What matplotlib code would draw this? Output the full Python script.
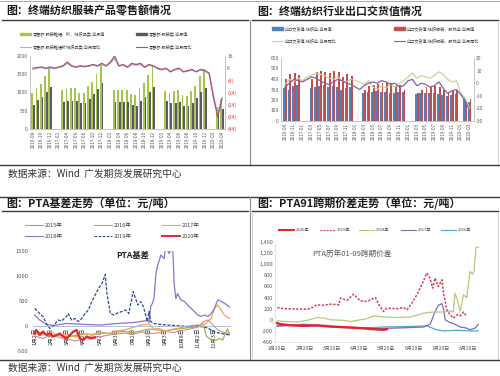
import numpy as np
import matplotlib
matplotlib.use('Agg')
import matplotlib.pyplot as plt
from matplotlib.lines import Line2D
from matplotlib.patches import Patch

plt.rcParams['font.family'] = ['Noto Sans CJK SC', 'DejaVu Sans']
plt.rcParams['axes.unicode_minus'] = False

nan = np.nan

# ---------------- Panel 1: retail sales ----------------
retail_months = ['2016-08', '2016-09', '2016-10', '2016-11', '2016-12',
                 '2017-01', '2017-02', '2017-03', '2017-04', '2017-05', '2017-06', '2017-07', '2017-08',
                 '2017-09', '2017-10', '2017-11', '2017-12',
                 '2018-01', '2018-02', '2018-03', '2018-04', '2018-05', '2018-06', '2018-07', '2018-08',
                 '2018-09', '2018-10', '2018-11', '2018-12',
                 '2019-01', '2019-02', '2019-03', '2019-04', '2019-05', '2019-06', '2019-07', '2019-08',
                 '2019-09', '2019-10', '2019-11', '2019-12',
                 '2020-01', '2020-02', '2020-03', '2020-04']
textile_retail = [980, 1130, 1220, 1460, 1690, nan, nan,
                  1080, 1100, 1120, 1110, 1000, 990, 1170, 1300, 1500, 1790, nan, nan,
                  1060, 1060, 1080, 1060, 960, 930, 1120, 1250, 1480, 1750, nan, nan,
                  1050, 1000, 1040, 1060, 920, 900, 1050, 1180, 1450, 1650, nan, nan,
                  600, 790]
clothing_retail = [660, 800, 890, 1020, 1160, nan, nan,
                   740, 760, 780, 770, 700, 700, 830, 960, 1100, 1250, nan, nan,
                   730, 730, 730, 730, 660, 640, 760, 880, 1020, 1150, nan, nan,
                   760, 700, 720, 740, 640, 640, 720, 840, 1020, 1130, nan, nan,
                   460, 540]
textile_retail_yoy = [5, 6, 6.5, 5.5, 6, 5.5, 6.5, 7.5, 10, 7.5, 6.5, 7.5, 7, 7.5, 8.5, 7.5, 9, 7.5, 10, 14,
                      7.5, 8.5, 6.5, 9, 8.5, 9, 6.5, 8.5, 7.5, 5.5, 4.5, 5.5, 3, 4.5, 5.5, 3, 3.5, 4.5, 3, 4.5,
                      3.5, 1.5, -16, -32, -18]
clothing_retail_yoy = [6, 6.5, 7, 6, 7, 6, 7, 8, 11, 8, 7, 8, 7.5, 8, 9, 8, 10, 8, 11, 16,
                       8, 9, 7, 10, 9, 10, 7, 9, 8, 6, 5, 6, 3, 5, 6, 3, 4, 5, 3, 5,
                       4, 2, -18, -34, -19]

# ---------------- Panel 2: export delivery value ----------------
export_months = ['2016-09', '2016-10', '2016-11', '2016-12',
                 '2017-01', '2017-02', '2017-03', '2017-04', '2017-05', '2017-06', '2017-07', '2017-08',
                 '2017-09', '2017-10', '2017-11', '2017-12',
                 '2018-01', '2018-02', '2018-03', '2018-04', '2018-05', '2018-06', '2018-07', '2018-08',
                 '2018-09', '2018-10', '2018-11', '2018-12',
                 '2019-01', '2019-02', '2019-03', '2019-04', '2019-05', '2019-06', '2019-07', '2019-08',
                 '2019-09', '2019-10', '2019-11', '2019-12',
                 '2020-01', '2020-02', '2020-03']
textile_export = [310, 300, 330, 340, nan, nan,
                  310, 320, 330, 340, 320, 330, 320, 300, 310, 320, nan, nan,
                  270, 280, 280, 290, 280, 280, 270, 265, 280, 280, nan, nan,
                  260, 270, 270, 270, 265, 255, 245, 240, 250, 260, nan, 220, 180]
apparel_export = [400, 450, 460, 440, nan, nan,
                  400, 470, 480, 470, 460, 480, 470, 420, 450, 430, nan, nan,
                  300, 330, 340, 350, 360, 370, 360, 330, 340, 300, nan, nan,
                  270, 300, 320, 320, 330, 320, 300, 280, 290, 300, nan, 180, 210]
textile_export_yoy = [-1, 3, 1, 4, 2, 5, 6, 8, 7, 6, 4, 3, 5, 2, 1, 3, 2, 1, -1, 2,
                      -3, -5, -2, -4, -1, -3, 0, 2, 5, 8, 4, 6, 5, 4, 6, 9, 7, 3, 1, 2,
                      -8, -12, -20]
apparel_export_yoy = [-3, 0, 3, 2, 1, 3, 5, 4, 2, 0, -1, 1, 3, 2, 0, -1, -3, -5, -2, 0,
                      1, 0, 2, 1, -1, 0, -3, -2, 2, 3, -2, 0, -1, -3, -2, 1, -4, -8, -6, -5,
                      -9, -14, -22]

# ---------------- Panel 3: PTA basis (x = month position, 0 = 1月2日) ----------------
basis_ticklabels = ['1月2日', '2月3日', '3月2日', '4月2日', '5月2日', '6月3日',
                    '7月2日', '8月2日', '9月3日', '10月8日', '11月2日', '12月3日']
basis_2015_x = [0, 0.5, 1, 1.5, 2, 2.5, 3, 3.5, 4, 4.5, 5, 5.5, 6, 6.5, 7, 7.5, 8, 8.5, 9, 9.5,
                10, 10.3, 10.6, 10.9, 11.2, 11.5, 11.93]
basis_2015_y = [-200, -250, -180, -230, -260, -300, -250, -200, -220, -180, -160, -140, -170, -120,
                -150, -140, -110, -130, -90, -60, -20, 80, 120, 30, -80, -120, -150]
basis_2016_x = [0, 0.5, 1, 1.5, 2, 2.5, 3, 3.5, 4, 4.5, 5, 5.5, 6, 6.5, 7, 7.5, 8, 8.5, 9, 9.5,
                10, 10.3, 10.5, 10.8, 11.0, 11.3, 11.5, 11.7, 11.8, 11.93]
basis_2016_y = [-100, -150, -200, -180, -220, -190, -160, -170, -140, -150, -120, -110, -130, -100,
                -60, -80, -100, -70, -50, -30, -20, 50, -200, -280, -300, -250, -280, -120, -60, -180]
basis_2017_x = [0, 0.5, 1, 1.5, 2, 2.5, 3, 3.5, 4, 4.5, 5, 5.5, 6, 6.5, 7, 7.3, 7.6, 8, 8.5, 9,
                9.5, 10, 10.4, 10.8, 11.0, 11.2, 11.4, 11.6, 11.93]
basis_2017_y = [-150, -180, -120, -200, -170, -220, -150, -180, -120, -150, -100, -80, -30, 20, 40,
                -60, -50, -100, -60, -30, 0, 20, 30, 150, 350, 420, 320, 220, 150]
basis_2018_x = [0, 0.31, 0.72, 1.13, 1.95, 3.19, 4.01, 5.04, 6.07, 6.69, 6.89, 7.0, 7.1, 7.2, 7.3,
                7.41, 7.51, 7.72, 7.92, 8.02, 8.23, 8.44, 8.54, 8.64, 8.74, 8.95, 9.16, 9.36, 9.67,
                9.98, 10.19, 10.39, 10.6, 10.8, 11.0, 11.11, 11.21, 11.42, 11.63, 11.93]
basis_2018_y = [220, 120, 30, 10, 50, 30, 20, 50, 70, 100, 110, 70, 390, 450, 550, 1020, 1190, 1420,
                1350, 1600, 1450, 1600, 820, 550, 650, 520, 490, 420, 320, 220, 190, 220, 190, 250,
                350, 450, 520, 490, 450, 380]
basis_2019_x = [0, 0.1, 0.31, 0.51, 0.72, 0.93, 1.13, 1.44, 1.65, 1.95, 2.06, 2.26, 2.47, 2.67, 2.88,
                3.09, 3.29, 3.5, 3.7, 3.91, 4.12, 4.32, 4.42, 4.63, 4.84, 5.14, 5.35, 5.56, 5.76,
                5.86, 6.03, 6.17, 6.32, 6.48, 6.65, 6.79, 6.89, 7.0, 7.1, 7.3, 7.72, 8.13, 8.74,
                9.36, 9.98, 10.6, 11.0, 11.42, 11.93]
basis_2019_y = [350, 320, 250, 190, 50, -50, 0, 120, 100, 190, 250, 120, 150, 90, 150, 250, 320, 490,
                620, 750, 850, 1030, 650, 250, 220, 270, 290, 320, 250, 420, 690, 550, 420, 490, 390,
                220, 90, 290, 90, 50, 30, 20, 5, -10, 0, -40, -120, -150, -180]
basis_2020_x = [0, 0.1, 0.31, 0.51, 0.72, 0.93, 1.13, 1.34, 1.54, 1.75, 1.95, 2.16, 2.37, 2.57, 2.67,
                2.78, 2.98, 3.19, 3.4, 3.7]
basis_2020_y = [-150, -80, -180, -110, -180, -150, -210, -180, -150, -210, -250, -180, -110, -80,
                -180, -250, -280, -210, -250, -230]

# ---------------- Panel 4: PTA 1-9 spread (x = months after 1月20日) ----------------
spread_ticklabels = ['1月20日', '2月20日', '3月20日', '4月20日', '5月20日', '6月20日', '7月20日', '8月20日']
spread_2020_x = [0, 0.12, 0.49, 0.98, 1.46, 1.95, 2.68, 3.05, 3.54, 3.9, 4.02]
spread_2020_y = [-60, -80, -100, -110, -100, -120, -140, -150, -170, -180, -170]
spread_2019_x = [0, 0.24, 0.61, 0.98, 1.22, 1.46, 1.65, 1.95, 2.26, 2.32, 2.56, 2.8, 3.05, 3.29, 3.6,
                 3.72, 3.9, 4.02, 4.39, 4.63, 4.76, 4.94, 5.12, 5.3, 5.49, 5.6, 5.7, 5.79, 5.91, 6.04,
                 6.1, 6.22, 6.34, 6.46, 6.59, 6.71, 6.83, 6.95]
spread_2019_y = [220, 200, 195, 190, 200, 270, 260, 280, 270, 390, 350, 460, 340, 330, 400, 280, 150,
                 210, 200, 220, 180, 300, 450, 630, 840, 750, 570, 750, 600, 720, 480, 180, 90, 30,
                 90, 70, 140, 60]
spread_2018_x = [0, 0.24, 0.73, 1.1, 1.46, 1.71, 1.95, 2.44, 2.68, 3.05, 3.29, 3.54, 3.9, 4.39, 4.88,
                 5.12, 5.37, 5.73, 6.1, 6.34, 6.46, 6.52, 6.61, 6.71, 6.83, 6.95, 7.07, 7.17, 7.22,
                 7.29, 7.38]
spread_2018_y = [-20, -30, -40, -10, 40, 30, 0, -10, -30, 0, 20, 70, 50, 40, 50, 80, 120, 140, 140,
                 160, 140, 480, 350, 150, 450, 400, 870, 820, 880, 1300, 1310]
spread_2017_x = [0, 0.98, 1.95, 2.93, 3.66, 4.88, 5.37, 5.61, 5.79, 5.91, 6.04, 6.1, 6.16, 6.34, 6.52,
                 6.71, 6.95, 7.07, 7.26, 7.38]
spread_2017_y = [-120, -80, -120, -140, -160, -140, -130, -80, 150, 260, 290, 200, 0, -50, -80, -130,
                 -150, -180, -150, -80]
spread_2016_x = [0, 0.98, 1.95, 2.93, 3.9, 4.88, 5.49, 5.85, 6.1, 6.59, 7.07, 7.38]
spread_2016_y = [-100, -100, -130, -150, -130, -120, -110, -180, -200, -190, -200, -200]

# ====================================================================
W, H = 500, 376
fig = plt.figure(figsize=(5.0, 3.76), dpi=100)


def axpx(x0, y0, x1, y1):
    return fig.add_axes([x0 / W, 1 - y1 / H, (x1 - x0) / W, (y1 - y0) / H])


def hline(x0, x1, y, color='#3a3a3a', lw=1.0):
    fig.add_artist(Line2D([x0 / W, x1 / W], [1 - y / H, 1 - y / H], transform=fig.transFigure,
                          color=color, lw=lw))


def vline(x, y0, y1, color='#8c8c8c', lw=0.8):
    fig.add_artist(Line2D([x / W, x / W], [1 - y0 / H, 1 - y1 / H], transform=fig.transFigure,
                          color=color, lw=lw))


def ftext(x, y, s, **kw):
    fig.text(x / W, 1 - y / H, s, **kw)


def leg(handle, label, x, y, fs=3.0, hl=2.2):
    fig.legend([handle], [label], loc='center left', bbox_to_anchor=(x / W, 1 - y / H),
               frameon=False, fontsize=fs, handlelength=hl, handletextpad=0.4, borderpad=0,
               borderaxespad=0, labelcolor='#404040')


# frame lines
hline(0, 500, 1, color='#9a9a9a', lw=0.6)
hline(2, 248, 20)
hline(252, 498, 20)
vline(250, 20, 165)
hline(0, 500, 165)
hline(0, 500, 197)
hline(2, 248, 211)
hline(252, 498, 211)
vline(250, 197, 360)
hline(0, 500, 360)
vline(498, 22, 163, color='#c8c8c8', lw=0.6)
vline(252, 213, 359, color='#c8c8c8', lw=0.6)
vline(498, 213, 359, color='#c8c8c8', lw=0.6)

title_kw = dict(fontsize=7.9, fontweight='bold', color='#1a1a1a', va='center', ha='left')
ftext(6, 11, '图：终端纺织服装产品零售额情况', **title_kw)
ftext(257, 11, '图：终端纺织行业出口交货值情况', **title_kw)
ftext(6, 204, '图：PTA基差走势（单位：元/吨）', **title_kw)
ftext(257, 204, '图：PTA91跨期价差走势（单位：元/吨）', **title_kw)
src_kw = dict(fontsize=7.0, color='#333333', va='center', ha='left')
ftext(8, 174, '数据来源：Wind  广发期货发展研究中心', **src_kw)
ftext(8, 368, '数据来源：Wind  广发期货发展研究中心', **src_kw)


def style_axis(ax, color='#bfbfbf'):
    for s in ax.spines.values():
        s.set_color(color)
        s.set_linewidth(0.5)
    ax.tick_params(length=0, pad=1.5, colors='#595959')


# ---------------- Panel 1 ----------------
c_green, c_purple, c_blue, c_pink = '#a4c64c', '#5e5670', '#9bb7dc', '#b0506e'
ax1 = axpx(30, 56, 225, 129)
n1 = len(retail_months)
x1 = np.arange(n1)
ax1.bar(x1 - 0.2, textile_retail, width=0.42, color=c_green, zorder=2)
ax1.bar(x1 + 0.2, clothing_retail, width=0.42, color=c_purple, zorder=2)
ax1.set_xlim(-0.7, n1 - 0.3)
ax1.set_ylim(0, 2000)
ax1.set_yticks([0, 500, 1000, 1500, 2000])
ax1.set_xticks(x1[::2])
ax1.set_xticklabels(retail_months[::2], rotation=90, fontsize=3.3)
ax1.tick_params(axis='y', labelsize=3.5)
style_axis(ax1)
ax1.spines['top'].set_visible(False)
ax1b = ax1.twinx()
ax1b.plot(x1, textile_retail_yoy, color=c_blue, lw=0.9, zorder=3)
ax1b.plot(x1, clothing_retail_yoy, color=c_pink, lw=0.9, zorder=3)
ax1b.set_ylim(-44, 16)
r_ticks = [16, 6, -4, -14, -24, -34, -44]
ax1b.set_yticks(r_ticks)
ax1b.set_yticklabels([str(t) if t >= 0 else '(%d)' % -t for t in r_ticks], fontsize=3.5)
style_axis(ax1b)
ax1b.spines['top'].set_visible(False)
for lab, t in zip(ax1b.get_yticklabels(), r_ticks):
    lab.set_color('#595959' if t >= 0 else '#e03030')

leg(Patch(color=c_green), '零售额:服装鞋帽、针、纺织品类:当月值', 20, 34, hl=2.6)
leg(Patch(color=c_purple), '零售额:服装类:当月值', 136, 34, hl=2.6)
leg(Line2D([], [], color=c_blue, lw=0.8), '零售额:服装鞋帽针纺织品类:当月同比', 20, 47, hl=2.6)
leg(Line2D([], [], color=c_pink, lw=0.8), '零售额:服装类:当月同比', 136, 47, hl=2.6)

# ---------------- Panel 2 ----------------
c_eblue, c_ered, c_egreen, c_epurple = '#4f81bd', '#c0504d', '#c3d69b', '#8064a2'
ax2 = axpx(281, 58, 474, 121)
n2 = len(export_months)
x2 = np.arange(n2)
ax2.bar(x2 - 0.2, textile_export, width=0.42, color=c_eblue, zorder=2)
ax2.bar(x2 + 0.2, apparel_export, width=0.42, color=c_ered, zorder=2)
ax2.set_xlim(-0.9, n2)
ax2.set_ylim(0, 600)
ax2.set_yticks(np.arange(0, 601, 100))
ax2.set_xticks(x2[::2])
ax2.set_xticklabels(export_months[::2], rotation=90, fontsize=3.3)
ax2.tick_params(axis='y', labelsize=3.5)
style_axis(ax2)
ax2.spines['top'].set_visible(False)
ax2b = ax2.twinx()
ax2b.plot(x2, textile_export_yoy, color=c_egreen, lw=0.9, zorder=3)
ax2b.plot(x2, apparel_export_yoy, color=c_epurple, lw=0.9, zorder=3)
ax2b.set_ylim(-30, 20)
ax2b.set_yticks(np.arange(-30, 21, 10))
ax2b.tick_params(axis='y', labelsize=3.5)
style_axis(ax2b)
ax2b.spines['top'].set_visible(False)

leg(Patch(color=c_eblue), '出口交货值:纺织业:当月值', 272, 29, hl=2.6)
leg(Patch(color=c_ered), '出口交货值:纺织服装、服饰业:当月值', 394, 29, hl=2.6)
leg(Line2D([], [], color=c_egreen, lw=0.8), '出口交货值:纺织业:当月同比', 272, 41, hl=2.6)
leg(Line2D([], [], color=c_epurple, lw=0.8), '出口交货值:纺织服装、服饰业:当月同比', 394, 41, hl=2.6)

# ---------------- Panel 3 ----------------
c15, c16, c17, c18, c19, c20 = '#d08a92', '#9cb84a', '#f3a25a', '#8a76c4', '#2d4a8a', '#e3262b'
ax3 = axpx(33, 251, 230, 351)
ax3.spines['bottom'].set_position(('data', 0))
for s in ['top', 'right', 'left']:
    ax3.spines[s].set_visible(False)
ax3.plot(basis_2015_x, basis_2015_y, color=c15, lw=0.8)
ax3.plot(basis_2016_x, basis_2016_y, color=c16, lw=0.9)
ax3.plot(basis_2017_x, basis_2017_y, color=c17, lw=0.9)
ax3.plot(basis_2018_x, basis_2018_y, color=c18, lw=0.9)
ax3.plot(basis_2019_x, basis_2019_y, color=c19, lw=0.9, ls=(0, (2.5, 1.2)))
ax3.plot(basis_2020_x, basis_2020_y, color=c20, lw=1.6)
ax3.set_xlim(-0.1, 11.95)
ax3.set_ylim(-500, 1500)
ax3.set_yticks([-500, 0, 500, 1000, 1500])
ax3.set_xticks(np.arange(len(basis_ticklabels)))
ax3.set_xticklabels(basis_ticklabels, rotation=90, fontsize=4, color='#333333')
ax3.tick_params(axis='y', labelsize=4.2, length=0, colors='#595959')
ax3.tick_params(axis='x', length=0, pad=1.5)
ax3.spines['bottom'].set_color('#9fb4d4')
ax3.spines['bottom'].set_linewidth(0.6)
ax3.text(6.0, 1400, 'PTA基差', ha='center', va='center', fontsize=6, fontweight='bold', color='#222222')

leg(Line2D([], [], color=c15, lw=0.8), '2015年', 25, 225, fs=4, hl=3.2)
leg(Line2D([], [], color=c16, lw=0.8), '2016年', 94, 225, fs=4, hl=3.2)
leg(Line2D([], [], color=c17, lw=0.8), '2017年', 162, 225, fs=4, hl=3.2)
leg(Line2D([], [], color=c18, lw=0.8), '2018年', 25, 236, fs=4, hl=3.2)
leg(Line2D([], [], color=c19, lw=0.8, ls=(0, (2.5, 1.2))), '2019年', 94, 236, fs=4, hl=3.2)
leg(Line2D([], [], color=c20, lw=1.4), '2020年', 162, 236, fs=4, hl=3.2)

# ---------------- Panel 4 ----------------
s20, s19, s18, s17, s16 = '#e8202a', '#d0405a', '#b9c77c', '#7b6fb5', '#4bacc6'
ax4 = axpx(275, 242, 479, 342)
ax4.plot(spread_2016_x, spread_2016_y, color=s16, lw=0.9)
ax4.plot(spread_2017_x, spread_2017_y, color=s17, lw=0.9)
ax4.plot(spread_2018_x, spread_2018_y, color=s18, lw=0.9)
ax4.plot(spread_2019_x, spread_2019_y, color=s19, lw=1.1, ls=(0, (1.5, 1.0)))
ax4.plot(spread_2020_x, spread_2020_y, color=s20, lw=1.7)
ax4.set_xlim(-0.08, 7.4)
ax4.set_ylim(-400, 1400)
ax4.set_yticks(np.arange(-400, 1401, 200))
ax4.set_yticklabels(['{:,}'.format(v) for v in range(-400, 1401, 200)], fontsize=4)
ax4.set_xticks(np.arange(len(spread_ticklabels)))
ax4.set_xticklabels(spread_ticklabels, fontsize=3.6)
style_axis(ax4, color='#d9d9d9')
ax4.tick_params(axis='x', pad=3)
for s in ['top', 'right']:
    ax4.spines[s].set_visible(False)
ax4.text(1.3, 1180, 'PTA历年01-09跨期价差', ha='left', va='center', fontsize=5.5, color='#555555')

leg(Line2D([], [], color=s20, lw=1.4), '2020年', 279, 230, fs=3, hl=3.6)
leg(Line2D([], [], color=s19, lw=0.9, ls=(0, (1.5, 1.0))), '2019年', 320, 230, fs=3, hl=3.6)
leg(Line2D([], [], color=s18, lw=0.8), '2018年', 359, 230, fs=3, hl=3.6)
leg(Line2D([], [], color=s17, lw=0.8), '2017年', 401, 230, fs=3, hl=3.6)
leg(Line2D([], [], color=s16, lw=0.8), '2016年', 441, 230, fs=3, hl=3.6)

fig.savefig('out.png', dpi=100)
